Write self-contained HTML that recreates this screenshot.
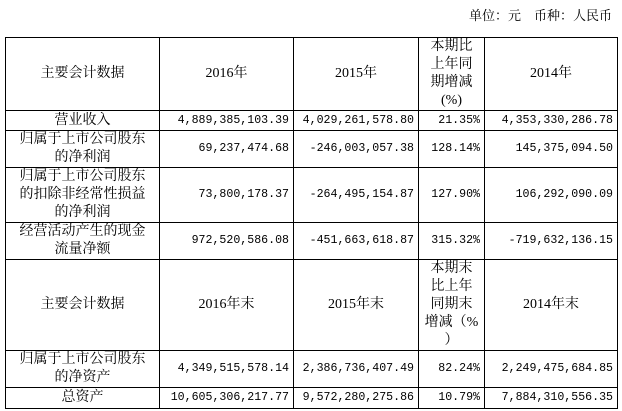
<!DOCTYPE html>
<html><head><meta charset="utf-8"><style>
body{margin:0;width:622px;height:411px;background:#fff;position:relative;font-family:"Liberation Serif","Noto Serif CJK SC",serif;color:#000;overflow:hidden}
.u{position:absolute;right:10px;top:5px;font-size:13px}
table{position:absolute;left:5px;top:37px;border-collapse:collapse;table-layout:fixed}
td{border:1px solid #000;font-size:14px;line-height:18px;padding:0 6px;text-align:center;word-break:break-all}
td.a{padding:0 12px}
td.p{padding:0 1px;white-space:nowrap;word-break:normal}
td.n{text-align:right;font-family:"Liberation Mono","Noto Serif CJK SC",monospace;font-size:11.6px;padding:0 4px;white-space:nowrap;word-break:normal}
</style></head><body>
<div class="u">单位：元　币种：人民币</div>
<table>
<colgroup><col style="width:154px"><col style="width:134px"><col style="width:125px"><col style="width:66px"><col style="width:133px"></colgroup>
<tr style="height:73px"><td class="a">主要会计数据</td><td>2016年</td><td>2015年</td><td class="p">本期比<br>上年同<br>期增减<br>(%)</td><td>2014年</td></tr>
<tr style="height:20px"><td class="a">营业收入</td><td class="n">4,889,385,103.39</td><td class="n">4,029,261,578.80</td><td class="n">21.35%</td><td class="n">4,353,330,286.78</td></tr>
<tr style="height:37px"><td class="a">归属于上市公司股东的净利润</td><td class="n">69,237,474.68</td><td class="n">-246,003,057.38</td><td class="n">128.14%</td><td class="n">145,375,094.50</td></tr>
<tr style="height:55px"><td class="a">归属于上市公司股东的扣除非经常性损益的净利润</td><td class="n">73,800,178.37</td><td class="n">-264,495,154.87</td><td class="n">127.90%</td><td class="n">106,292,090.09</td></tr>
<tr style="height:37px"><td class="a">经营活动产生的现金流量净额</td><td class="n">972,520,586.08</td><td class="n">-451,663,618.87</td><td class="n">315.32%</td><td class="n">-719,632,136.15</td></tr>
<tr style="height:89px"><td class="a">主要会计数据</td><td>2016年末</td><td>2015年末</td><td class="p">本期末<br>比上年<br>同期末<br>增减（%<br>）</td><td>2014年末</td></tr>
<tr style="height:36px"><td class="a">归属于上市公司股东的净资产</td><td class="n">4,349,515,578.14</td><td class="n">2,386,736,407.49</td><td class="n">82.24%</td><td class="n">2,249,475,684.85</td></tr>
<tr style="height:21px"><td class="a">总资产</td><td class="n">10,605,306,217.77</td><td class="n">9,572,280,275.86</td><td class="n">10.79%</td><td class="n">7,884,310,556.35</td></tr>
</table>
</body></html>
